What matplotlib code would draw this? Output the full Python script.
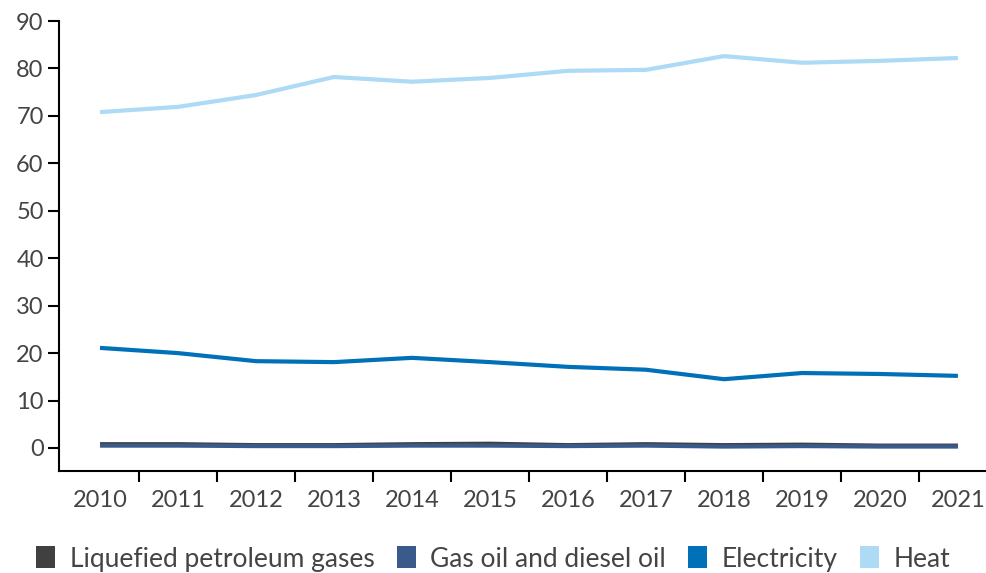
import numpy as np
import matplotlib
matplotlib.use("Agg")
import matplotlib.pyplot as plt
from matplotlib.patches import Patch

plt.rcParams['font.family'] = ['Lato', 'DejaVu Sans']

years = ["2010", "2011", "2012", "2013", "2014", "2015",
         "2016", "2017", "2018", "2019", "2020", "2021"]
lpg = [0.8, 0.8, 0.6, 0.6, 0.8, 0.9, 0.6, 0.8, 0.6, 0.7, 0.5, 0.5]
gas_oil = [0.5, 0.5, 0.4, 0.4, 0.5, 0.5, 0.4, 0.5, 0.3, 0.4, 0.3, 0.3]
electricity = [21.1, 20.0, 18.3, 18.1, 19.0, 18.1, 17.1, 16.5, 14.5, 15.8, 15.6, 15.2]
heat = [70.8, 71.9, 74.4, 78.2, 77.2, 78.0, 79.5, 79.7, 82.6, 81.2, 81.6, 82.2]

names = ["Liquefied petroleum gases", "Gas oil and diesel oil", "Electricity", "Heat"]
colors = ["#404040", "#3a5a8c", "#0070b8", "#addaf5"]
text_col = "#444444"

fig = plt.figure(figsize=(9.86, 5.73), dpi=100)
ax = fig.add_axes([59/986, 1 - 471/573, 1 - 59/986, (471 - 21)/573])

x = np.arange(len(years))
for vals, c in zip([lpg, gas_oil, electricity, heat], colors):
    ax.plot(x, vals, color=c, lw=3, solid_capstyle="butt")

ax.set_ylim(-4.85, 90)
ax.set_xlim(-0.526, 11.36)
ax.set_yticks(range(0, 91, 10))
ax.set_xticks(x)
ax.set_xticklabels(years)
ax.set_xticks(np.arange(0.5, 11, 1), minor=True)

for s in ["top", "right"]:
    ax.spines[s].set_visible(False)
for s in ["left", "bottom"]:
    ax.spines[s].set_linewidth(1.5)
    ax.spines[s].set_color("black")

ax.tick_params(axis="y", length=8, width=1.5, labelsize=17, labelcolor=text_col, pad=3)
ax.tick_params(axis="x", which="major", length=0, labelsize=17, labelcolor=text_col, pad=14)
ax.tick_params(axis="x", which="minor", length=8, width=1.5)

handles = [Patch(facecolor=c, edgecolor="none") for c in colors]
fig.legend(handles, names, loc="center left", bbox_to_anchor=(36/986, 1 - 559/573),
           ncol=4, frameon=False, fontsize=19, labelcolor=text_col,
           borderpad=0, borderaxespad=0,
           handlelength=0.72, handleheight=0.9, handletextpad=0.55, columnspacing=0.85)

fig.savefig("out.png", dpi=100)
